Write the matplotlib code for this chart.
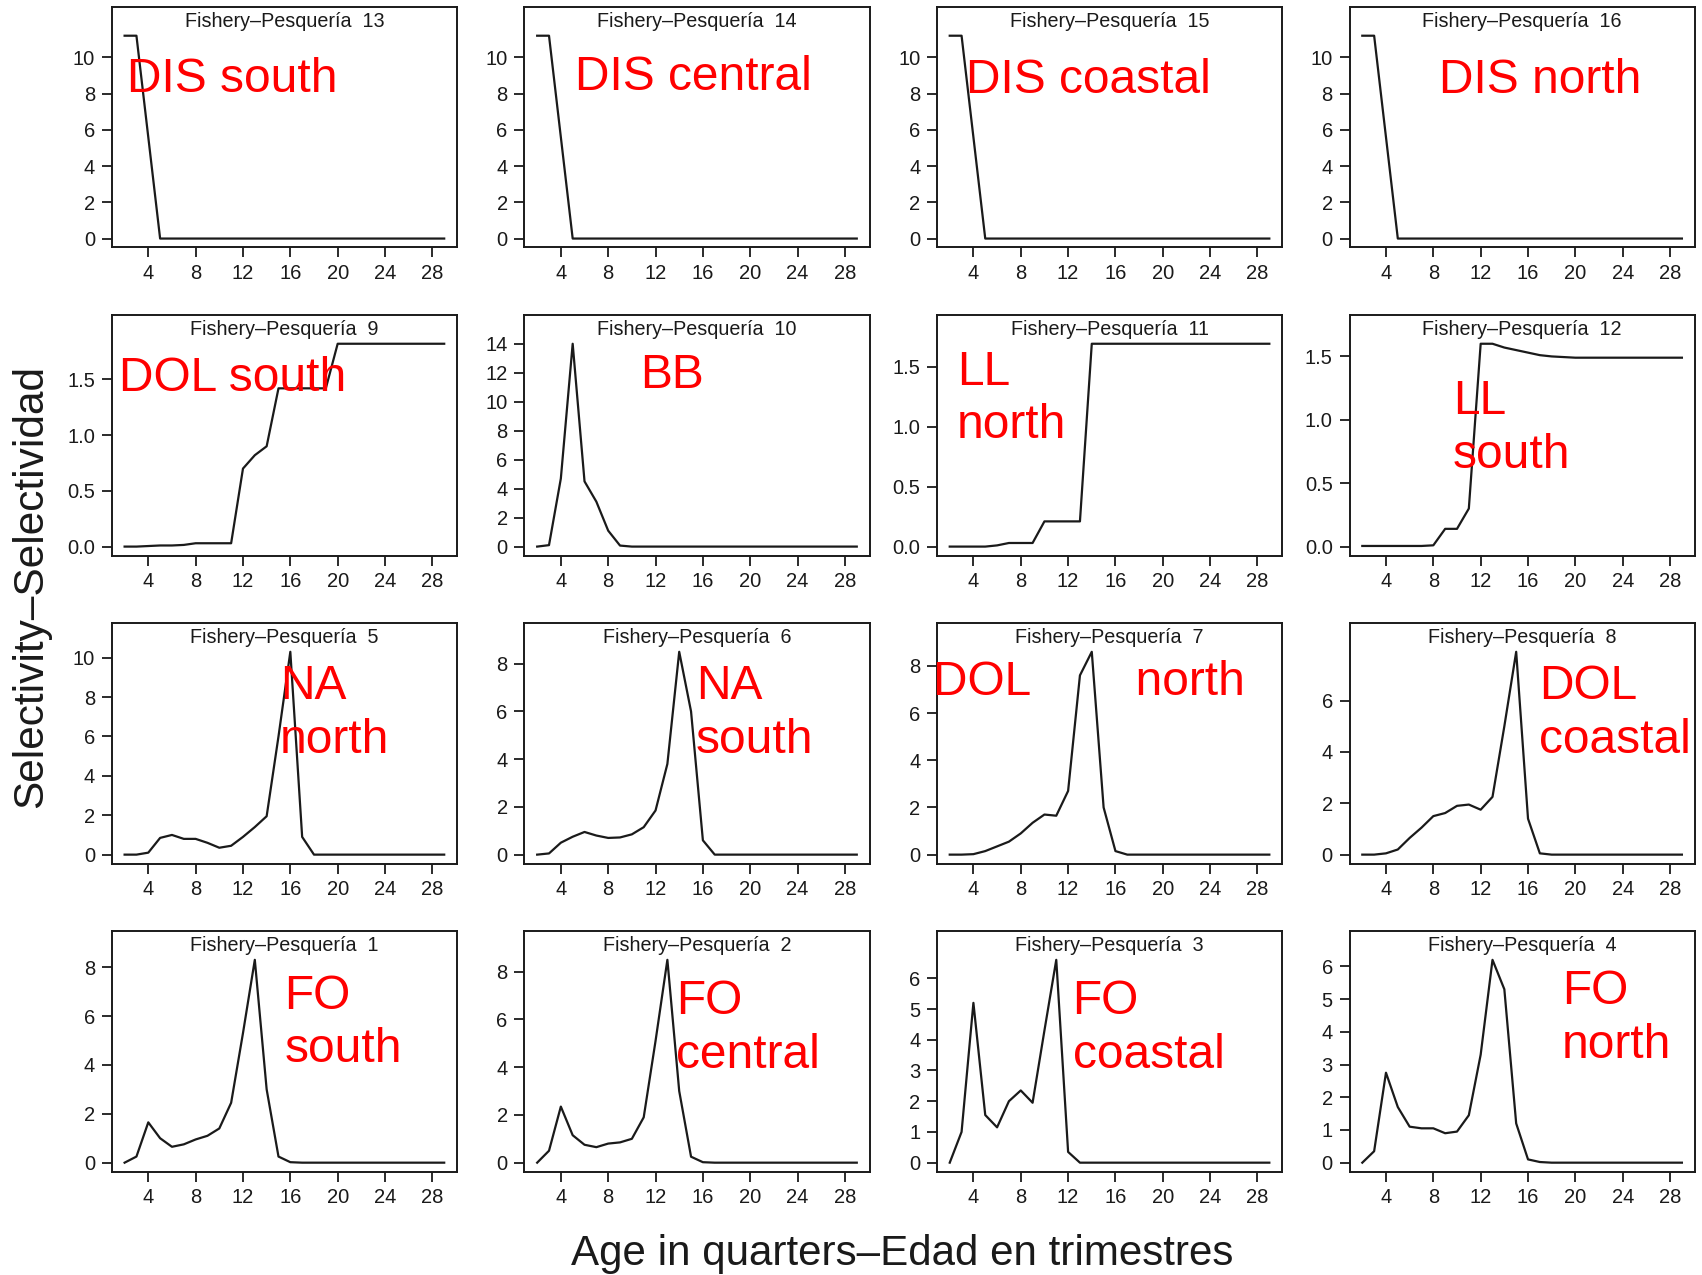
import numpy as np
import matplotlib
matplotlib.use("Agg")
import matplotlib.pyplot as plt
from matplotlib.ticker import FormatStrFormatter

plt.rcParams['font.family'] = ['Liberation Sans', 'DejaVu Sans']

# ages in quarters
ages = list(range(2, 30))

# selectivity by fishery
f1 = [0, 0.25, 1.65, 1.0, 0.65, 0.75, 0.95, 1.1, 1.4, 2.45, 5.3, 8.3, 3.0, 0.25, 0.02] + [0] * 13
f2 = [0, 0.5, 2.35, 1.15, 0.75, 0.65, 0.8, 0.85, 1.0, 1.9, 5.1, 8.5, 3.0, 0.25, 0.02] + [0] * 13
f3 = [0, 1.0, 5.2, 1.55, 1.15, 2.0, 2.35, 1.95, 4.3, 6.6, 0.35] + [0] * 17
f4 = [0, 0.35, 2.75, 1.7, 1.1, 1.05, 1.05, 0.9, 0.95, 1.45, 3.3, 6.2, 5.3, 1.2, 0.1, 0.02] + [0] * 12
f5 = [0, 0, 0.1, 0.85, 1.0, 0.8, 0.8, 0.6, 0.35, 0.45, 0.9, 1.4, 1.95, 6.0, 10.3, 0.9] + [0] * 12
f6 = [0, 0.05, 0.5, 0.75, 0.95, 0.8, 0.7, 0.72, 0.85, 1.15, 1.85, 3.8, 8.5, 6.0, 0.6] + [0] * 13
f7 = [0, 0, 0.02, 0.15, 0.35, 0.55, 0.9, 1.35, 1.7, 1.65, 2.7, 7.6, 8.6, 2.0, 0.15] + [0] * 13
f8 = [0, 0, 0.05, 0.2, 0.65, 1.05, 1.5, 1.62, 1.9, 1.95, 1.75, 2.25, 5.0, 7.9, 1.4, 0.05] + [0] * 12
f9 = [0, 0, 0.005, 0.01, 0.01, 0.015, 0.03, 0.03, 0.03, 0.03, 0.7, 0.82, 0.9, 1.42,
      1.42, 1.42, 1.42, 1.42] + [1.82] * 10
f10 = [0, 0.1, 4.7, 14.0, 4.5, 3.1, 1.1, 0.07] + [0] * 20
f11 = [0, 0, 0, 0, 0.01, 0.03, 0.03, 0.03, 0.21, 0.21, 0.21, 0.21] + [1.69] * 16
f12 = [0.005] * 6 + [0.01, 0.14, 0.14, 0.3, 1.6, 1.6, 1.57, 1.55, 1.53, 1.51, 1.5, 1.495, 1.49] + [1.49] * 9
f13 = [11.2, 11.2, 5.6] + [0] * 25
f14 = [11.2, 11.2, 5.6] + [0] * 25
f15 = [11.2, 11.2, 5.6] + [0] * 25
f16 = [11.2, 11.2, 5.6] + [0] * 25

fishery_num = [13, 14, 15, 16, 9, 10, 11, 12, 5, 6, 7, 8, 1, 2, 3, 4]
series = [f13, f14, f15, f16, f9, f10, f11, f12, f5, f6, f7, f8, f1, f2, f3, f4]
labels = ["DIS south", "DIS central", "DIS coastal", "DIS north",
          "DOL south", "BB", "LL\nnorth", "LL\nsouth",
          "NA\nnorth", "NA\nsouth", "DOL        north", "DOL\ncoastal",
          "FO\nsouth", "FO\ncentral", "FO\ncoastal", "FO\nnorth"]
ytick_step = [2, 2, 2, 2, 0.5, 2, 0.5, 0.5, 2, 2, 2, 2, 2, 2, 1, 1]
# label positions in axes fraction
label_pos = [(0.044, 0.698), (0.148, 0.707), (0.085, 0.694), (0.258, 0.694),
             (0.022, 0.734), (0.336, 0.748), (0.057, 0.649), (0.299, 0.527),
             (0.487, 0.622), (0.497, 0.622), (-0.01, 0.752), (0.55, 0.622),
             (0.50, 0.617), (0.44, 0.595), (0.393, 0.595), (0.616, 0.635)]

fig = plt.figure(figsize=(17.02, 12.75), dpi=100)

left0, dx, w = 0.0657, 0.2424, 0.2028
top0, dy, h = 0.9949, 0.2416, 0.189

for i in range(16):
    r, c = divmod(i, 4)
    ax = fig.add_axes([left0 + c * dx, top0 - r * dy - h, w, h])
    y = series[i]
    ax.plot(ages, y, color='#1a1a1a', lw=1.6)

    # R-style limits: 4% padding
    xr = ages[-1] - ages[0]
    ax.set_xlim(ages[0] - 0.04 * xr, ages[-1] + 0.04 * xr)
    top = 1.1 * max(y)
    ax.set_ylim(-0.04 * top, top * 1.04)

    ax.set_xticks(range(4, 29, 4))
    step = ytick_step[i]
    ax.set_yticks(np.arange(0, max(y) + 1e-9, step))
    if step < 1:
        ax.yaxis.set_major_formatter(FormatStrFormatter('%.1f'))
    else:
        ax.yaxis.set_major_formatter(FormatStrFormatter('%d'))
    ax.tick_params(direction='out', length=7, width=1.3, labelsize=14.5,
                   colors='#1a1a1a', pad=5)
    for sp in ax.spines.values():
        sp.set_linewidth(1.4)
        sp.set_color('#1a1a1a')

    ax.text(0.5, 0.937, "Fishery–Pesquería  %d" % fishery_num[i],
            transform=ax.transAxes, ha='center', va='center', fontsize=14.2,
            color='#1a1a1a')
    lx, ly = label_pos[i]
    ax.text(lx, ly, labels[i], transform=ax.transAxes, ha='left', va='center',
            fontsize=34.5, color='#ff0000', linespacing=1.25, zorder=5)

fig.text(0.018, 0.54, "Selectivity–Selectividad", rotation=90, ha='center',
         va='center', fontsize=30.5, color='#1a1a1a')
fig.text(0.53, 0.0165, "Age in quarters–Edad en trimestres", ha='center',
         va='center', fontsize=30.3, color='#1a1a1a')

fig.savefig("out.png", dpi=100)
